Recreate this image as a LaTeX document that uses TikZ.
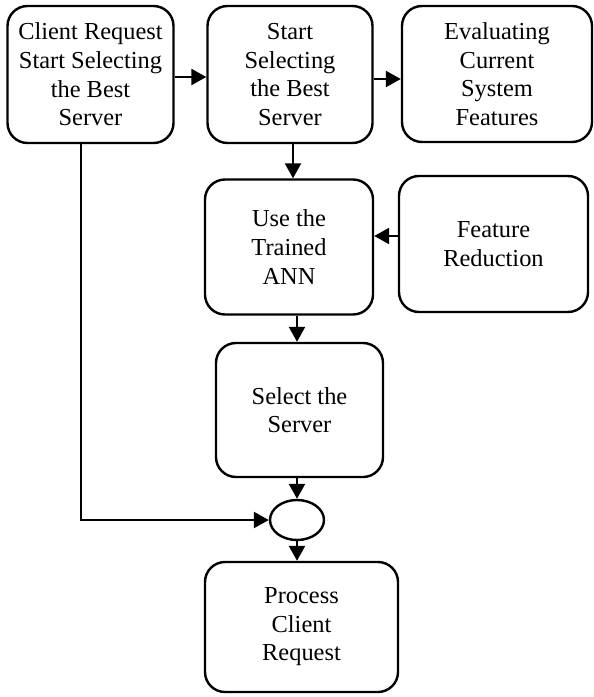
\documentclass[tikz,border=0pt]{standalone}
\usepackage{fontspec}
\setmainfont{Liberation Serif}
\usetikzlibrary{arrows.meta,shapes.geometric}

\tikzset{
  box/.style={draw,line width=2.4bp,rounded corners=20bp,align=center,
    inner sep=0pt,font=\fontsize{24.5}{28.7}\selectfont},
  arr/.style={line width=2.4bp,-{Triangle[length=15bp,width=16bp]}},
  mergenode/.style={draw,line width=2.4bp,ellipse,minimum width=54bp,
    minimum height=40bp,inner sep=0pt}
}

\begin{document}
\begin{tikzpicture}[x=1bp,y=-1bp]
\useasboundingbox (0,0) rectangle (594,697);

% top row
\node[box,minimum width=166bp,minimum height=137bp] (request) at (90.5,74.5)
  {Client Request\\Start Selecting\\the Best\\Server};
\node[box,minimum width=165bp,minimum height=137bp] (select) at (290,74.5)
  {Start\\Selecting\\the Best\\Server};
\node[box,minimum width=190bp,minimum height=136bp] (evaluate) at (497,74)
  {Evaluating\\Current\\System\\Features};

% middle
\node[box,minimum width=168bp,minimum height=135bp] (ann) at (289,247)
  {Use the\\Trained\\ANN};
\node[box,minimum width=189bp,minimum height=136bp] (reduce) at (493.5,244)
  {Feature\\Reduction};
\node[box,minimum width=167bp,minimum height=134bp] (server) at (299.5,410)
  {Select the\\Server};

% bottom
\node[mergenode] (merge) at (297,520) {};
\node[box,minimum width=193bp,minimum height=130bp] (process) at (301.5,627)
  {Process\\Client\\Request};

\draw[arr] (request.east |- 0,77) -- (select.west |- 0,77);
\draw[arr] (select.east |- 0,79) -- (evaluate.west |- 0,79);
\draw[arr] ([xshift=3bp]select.south) -- ([xshift=3bp]select.south |- ann.north);
\draw[arr] (reduce.west |- 0,236) -- (ann.east |- 0,236);
\draw[arr] (merge |- ann.south) -- (merge |- server.north);
\draw[arr] (merge |- server.south) -- (merge.north);
\draw[arr] (merge.south) -- (merge |- process.north);
\draw[arr] ([xshift=-9.5bp]request.south) |- (merge.west);

\end{tikzpicture}
\end{document}
